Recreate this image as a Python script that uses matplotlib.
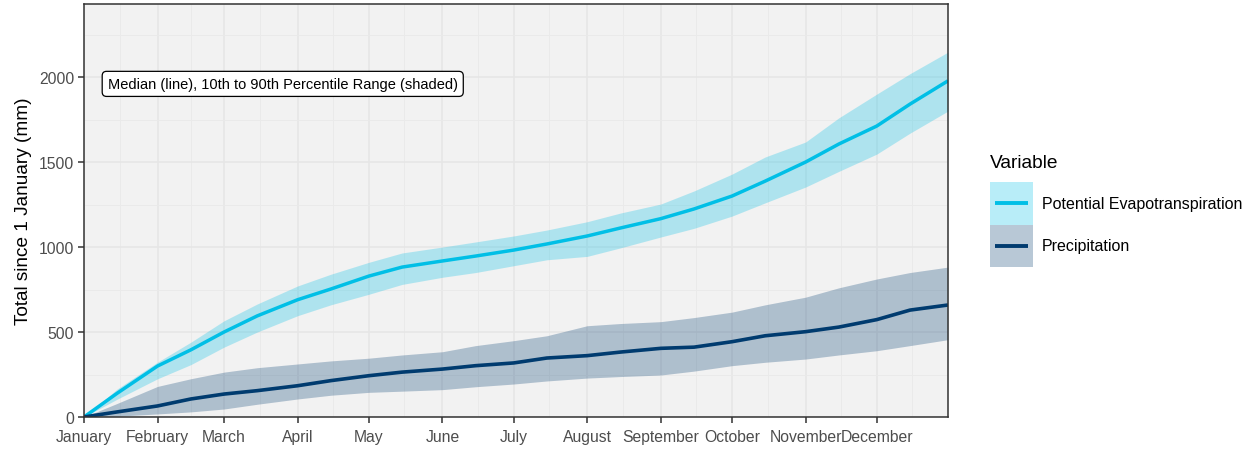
import datetime as dt
import matplotlib
matplotlib.use("Agg")
import matplotlib.pyplot as plt

plt.rcParams['font.family'] = ['Liberation Sans', 'DejaVu Sans']

# sample days: first and middle of each month, plus 31 December
dates = [dt.date(2001, 1, 1), dt.date(2001, 1, 15), dt.date(2001, 2, 1), dt.date(2001, 2, 15),
         dt.date(2001, 3, 1), dt.date(2001, 3, 15), dt.date(2001, 4, 1), dt.date(2001, 4, 15),
         dt.date(2001, 5, 1), dt.date(2001, 5, 15), dt.date(2001, 6, 1), dt.date(2001, 6, 15),
         dt.date(2001, 7, 1), dt.date(2001, 7, 15), dt.date(2001, 8, 1), dt.date(2001, 8, 15),
         dt.date(2001, 9, 1), dt.date(2001, 9, 15), dt.date(2001, 10, 1), dt.date(2001, 10, 15),
         dt.date(2001, 11, 1), dt.date(2001, 11, 15), dt.date(2001, 12, 1), dt.date(2001, 12, 15),
         dt.date(2001, 12, 31)]

# cumulative totals (mm)
pet_med = [0, 140, 300, 395, 500, 595, 690, 753, 829, 882, 918, 947, 982, 1018, 1065, 1112,
           1167, 1224, 1300, 1388, 1500, 1606, 1712, 1841, 1978]
pet_lo = [0, 105, 225, 308, 411, 500, 596, 660, 722, 780, 822, 850, 890, 925, 945, 995,
          1059, 1110, 1182, 1260, 1353, 1445, 1547, 1670, 1800]
pet_hi = [0, 165, 323, 440, 566, 665, 771, 840, 910, 965, 1000, 1030, 1065, 1100, 1149, 1200,
          1253, 1330, 1429, 1530, 1618, 1760, 1900, 2020, 2147]

pre_med = [0, 30, 65, 106, 135, 155, 184, 214, 243, 264, 282, 302, 318, 347, 361, 382,
           404, 411, 443, 478, 502, 529, 573, 629, 659]
pre_lo = [0, 5, 18, 30, 47, 75, 106, 128, 145, 152, 161, 178, 194, 212, 229, 238,
          247, 270, 302, 322, 341, 365, 390, 420, 455]
pre_hi = [0, 80, 180, 225, 264, 290, 312, 330, 346, 365, 384, 420, 449, 478, 537, 550,
          561, 585, 617, 660, 705, 760, 812, 850, 882]

series = ["Potential Evapotranspiration", "Precipitation"]
pet_col = "#00BFE6"
pre_col = "#003B6F"
band_alpha = 0.28

fig = plt.figure(figsize=(12.51, 4.52), dpi=100)
W, H = 1251, 452
ax = fig.add_axes([84 / W, 34 / H, 864 / W, 413 / H])
ax.set_facecolor("#F2F2F2")

ax.fill_between(dates, pet_lo, pet_hi, color=pet_col, alpha=band_alpha, lw=0)
ax.fill_between(dates, pre_lo, pre_hi, color=pre_col, alpha=band_alpha, lw=0)
ax.plot(dates, pet_med, color=pet_col, lw=2.5, solid_capstyle='butt')
ax.plot(dates, pre_med, color=pre_col, lw=2.6, solid_capstyle='butt')

ax.set_xlim(dt.date(2001, 1, 1), dt.date(2001, 12, 31))
ax.set_ylim(0, 2430)

# month ticks, minor grid halfway between
month_starts = [dt.date(2001, m, 1) for m in range(1, 13)]
ax.set_xticks(month_starts)
ax.set_xticklabels([d.strftime("%B") for d in month_starts])
bounds = month_starts + [dt.date(2002, 1, 1)]
mids = [a + (b - a) / 2 for a, b in zip(bounds[:-1], bounds[1:])]
ax.set_xticks(mids, minor=True)
ax.set_yticks([0, 500, 1000, 1500, 2000])
ax.set_yticks([250, 750, 1250, 1750, 2250], minor=True)

ax.grid(which='major', color='#E6E6E6', lw=1.1)
ax.grid(which='minor', color='#EAEAEA', lw=0.7)
ax.set_axisbelow(True)
ax.tick_params(which='major', length=4, width=1.1, color='#333333', labelcolor='#4D4D4D',
               labelsize=11.3, pad=3)
ax.tick_params(axis='x', which='major', pad=5)
ax.tick_params(which='minor', length=0)
for s in ax.spines.values():
    s.set_color('#333333')
    s.set_linewidth(1.1)

ax.set_ylabel("Total since 1 January (mm)", fontsize=13.7, color='black', labelpad=5)

ax.text(dt.date(2001, 1, 11), 1960, "Median (line), 10th to 90th Percentile Range (shaded)",
        fontsize=10.5, va='center', ha='left',
        bbox=dict(boxstyle="round,pad=0.38,rounding_size=0.3", fc='white', ec='black', lw=0.9))

# legend drawn by hand: title, keys (band + line) and labels
fig.text(990 / W, 1 - 163 / H, "Variable", fontsize=13.8, va='center', ha='left')
key_top = 183
key_h = 42.5
for i, (name, col) in enumerate(zip(series, [pet_col, pre_col])):
    top = key_top + i * key_h
    kax = fig.add_axes([990 / W, 1 - (top + key_h) / H, 43 / W, key_h / H])
    kax.set_xlim(0, 1)
    kax.set_ylim(0, 1)
    kax.axis('off')
    kax.axhspan(0, 1, color=col, alpha=band_alpha, lw=0)
    kax.plot([0.12, 0.88], [0.5, 0.5], color=col, lw=2.8, solid_capstyle='butt')
    fig.text(1042 / W, 1 - (top + key_h / 2) / H, name, fontsize=11.5, va='center', ha='left')

fig.savefig("out.png", dpi=100)
